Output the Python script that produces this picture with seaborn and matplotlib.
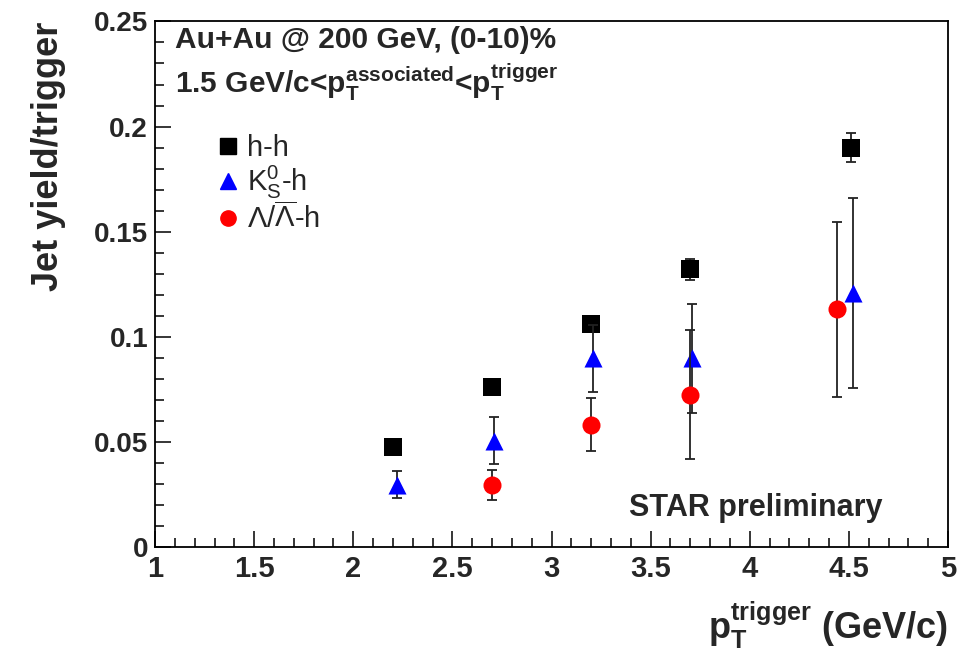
import matplotlib
matplotlib.use("Agg")
import matplotlib.pyplot as plt
from matplotlib.ticker import MultipleLocator
from matplotlib.lines import Line2D
import seaborn as sns
import pandas as pd

# h-h
hh_x = [2.20, 2.70, 3.20, 3.70, 4.51]
hh_y = [0.0475, 0.076, 0.106, 0.132, 0.190]
hh_err = [0.002, 0.002, 0.002, 0.005, 0.0068]

# K0s-h
k0_x = [2.22, 2.71, 3.21, 3.71, 4.52]
k0_y = [0.0297, 0.0506, 0.0898, 0.0898, 0.1207]
k0_err = [0.0065, 0.011, 0.016, 0.026, 0.0453]

# Lambda-h
lam_x = [2.70, 3.20, 3.70, 4.44]
lam_y = [0.0295, 0.0582, 0.0725, 0.1130]
lam_err = [0.007, 0.0125, 0.0305, 0.0415]

labels = ["h-h", r"$\mathrm{K}_{\mathrm{S}}^{0}$-h", r"$\Lambda/\overline{\Lambda}$-h"]

sns.set_theme(style="ticks")
plt.rcParams['font.family'] = ['Liberation Sans', 'DejaVu Sans']
plt.rcParams['mathtext.fontset'] = 'custom'
plt.rcParams['mathtext.rm'] = 'Liberation Sans'
plt.rcParams['mathtext.it'] = 'Liberation Sans:italic'
plt.rcParams['mathtext.bf'] = 'Liberation Sans:bold'

fig = plt.figure(figsize=(9.57, 6.5), dpi=100)
ax = fig.add_axes([0.162, 0.1585, 0.8286, 0.8085])

series = [
    (hh_x, hh_y, hh_err, 's', 'black', 13),
    (k0_x, k0_y, k0_err, '^', 'blue', 13),
    (lam_x, lam_y, lam_err, 'o', 'red', 13),
]
handles = []
for i, (x, y, e, m, c, ms) in enumerate(series):
    df = pd.DataFrame({'x': x, 'y': y})
    ax.errorbar(x, y, yerr=e, fmt='none', ecolor='#222222', elinewidth=1.3,
                capsize=3.5, capthick=1.3, zorder=2 + 2 * i)
    sns.scatterplot(data=df, x='x', y='y', marker=m, color=c, s=ms ** 2,
                    edgecolor=c, linewidth=0, ax=ax, zorder=3 + 2 * i, legend=False)
    handles.append(Line2D([], [], ls='none', marker=m, color=c, markersize=11))

ax.set_xlim(1, 5)
ax.set_ylim(0, 0.25)
ax.xaxis.set_minor_locator(MultipleLocator(0.1))
ax.yaxis.set_minor_locator(MultipleLocator(0.01))
ax.set_xticks([1, 1.5, 2, 2.5, 3, 3.5, 4, 4.5, 5])
ax.set_xticklabels(['1', '1.5', '2', '2.5', '3', '3.5', '4', '4.5', '5'])
ax.set_yticks([0, 0.05, 0.1, 0.15, 0.2, 0.25])
ax.set_yticklabels(['0', '0.05', '0.1', '0.15', '0.2', '0.25'])
ax.tick_params(which='both', direction='in', top=False, right=False, width=1.1, color='black')
ax.tick_params(which='major', length=11.5)
ax.tick_params(which='minor', length=6.5)
ax.tick_params(axis='x', labelsize=21, pad=6)
ax.tick_params(axis='y', labelsize=20, pad=5)
for lab in ax.get_xticklabels() + ax.get_yticklabels():
    lab.set_fontweight('bold')
for sp in ax.spines.values():
    sp.set_linewidth(1.3)
    sp.set_color('black')

ax.set_xlabel(r'$\mathbf{p}_{\mathbf{T}}^{\mathbf{trigger}}$ (GeV/c)', fontsize=26,
              fontweight='bold', loc='right', labelpad=12)
ax.set_ylabel('Jet yield/trigger', fontsize=26, fontweight='bold', loc='top', labelpad=20)

ax.text(0.025, 0.965, 'Au+Au @ 200 GeV, (0-10)%', transform=ax.transAxes,
        fontsize=21.5, fontweight='bold', va='center', ha='left')
ax.text(0.025, 0.885,
        r'1.5 GeV/c<$\mathbf{p}_{\mathbf{T}}^{\mathbf{associated}}$<$\mathbf{p}_{\mathbf{T}}^{\mathbf{trigger}}$',
        transform=ax.transAxes, fontsize=21.5, fontweight='bold', va='center', ha='left')
ax.text(0.917, 0.074, 'STAR preliminary', transform=ax.transAxes,
        fontsize=22, fontweight='bold', ha='right', va='center')

ax.legend(handles, labels, loc='upper left', bbox_to_anchor=(0.039, 0.835), frameon=False,
          fontsize=21, handletextpad=0.1, labelspacing=0.05, handlelength=1.1)

fig.savefig('out.png', dpi=100)
